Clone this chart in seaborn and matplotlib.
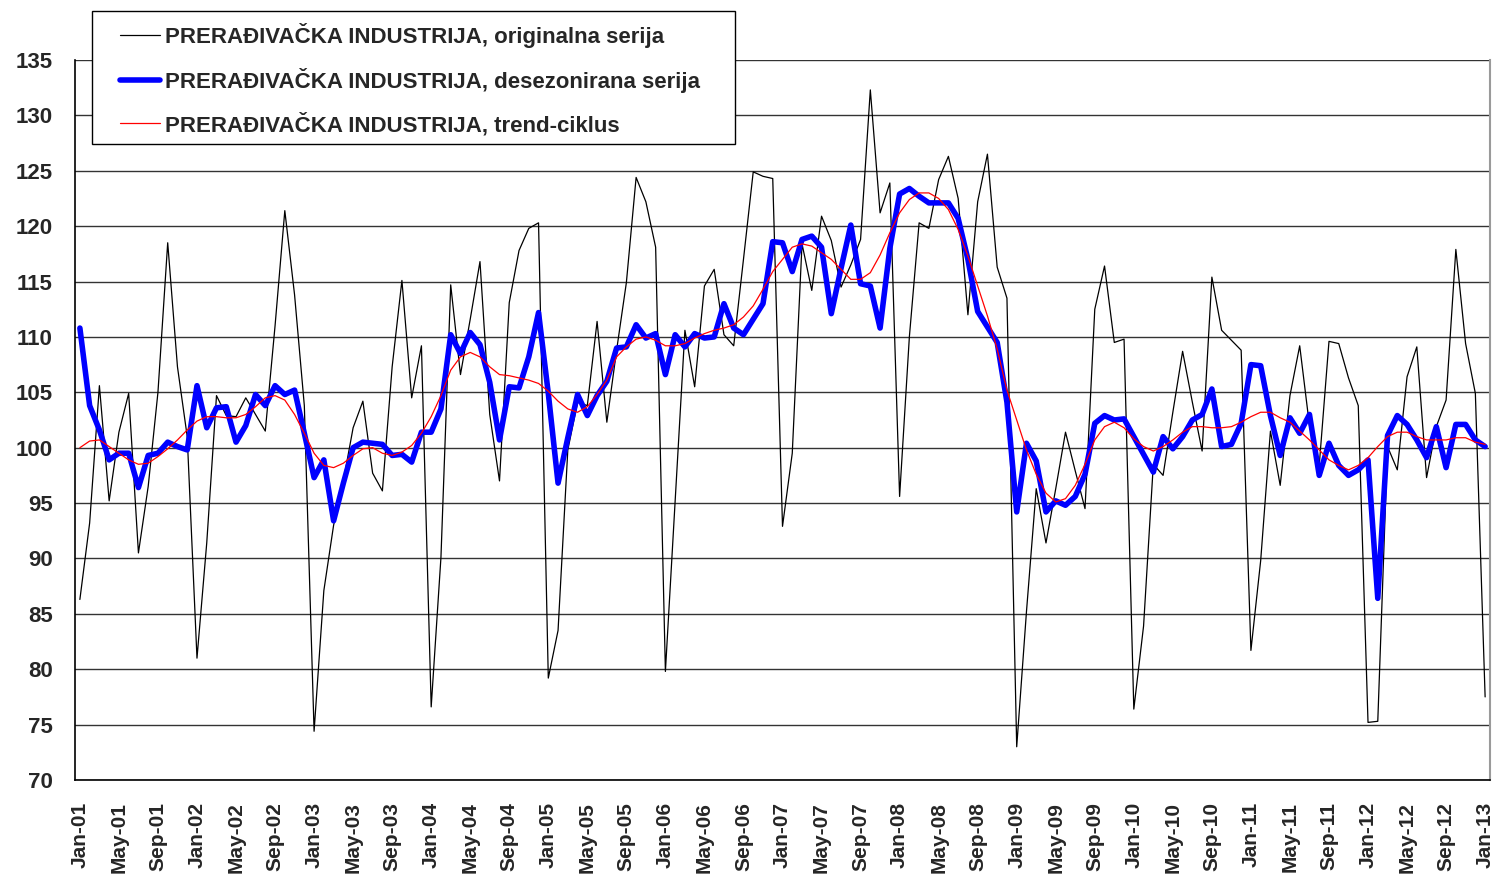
import numpy as np
import pandas as pd
import matplotlib
matplotlib.use("Agg")
import matplotlib.pyplot as plt
from matplotlib.patches import Rectangle
import seaborn as sns

# --- data (monthly, Jan-2001 .. Jan-2013) ---
MONTH_NAMES = ["Jan", "Feb", "Mar", "Apr", "May", "Jun",
               "Jul", "Aug", "Sep", "Oct", "Nov", "Dec"]
YEARS = list(range(1, 14))

original = [
    86.3, 93.2, 105.6, 95.2, 101.4, 104.9, 90.5, 96.5, 105.0, 118.5, 107.3, 101.0,
    81.0, 91.4, 104.7, 102.9, 102.8, 104.5, 103.0, 101.5, 111.0, 121.4, 113.8, 103.8,
    74.4, 87.1, 93.0, 97.0, 101.8, 104.2, 97.7, 96.1, 107.3, 115.1, 104.5, 109.2,
    76.6, 90.1, 114.7, 106.6, 111.6, 116.8, 103.0, 97.0, 113.1, 117.8, 119.8, 120.3,
    79.2, 83.5, 99.8, 104.1, 103.8, 111.4, 102.3, 108.8, 114.9, 124.4, 122.2, 118.1,
    79.8, 95.2, 110.6, 105.5, 114.6, 116.1, 110.2, 109.2, 117.0, 124.9, 124.5, 124.3,
    92.9, 99.5, 118.4, 114.2, 120.9, 118.7, 114.5, 116.5, 118.8, 132.3, 121.2, 123.9,
    95.6, 110.0, 120.3, 119.8, 124.2, 126.3, 122.5, 112.0, 122.2, 126.5, 116.3, 113.5,
    73.0, 85.2, 96.3, 91.4, 96.3, 101.4, 97.9, 94.5, 112.5, 116.4, 109.5, 109.8,
    76.4, 83.9, 98.5, 97.5, 103.2, 108.7, 104.1, 99.7, 115.4, 110.6, 109.7, 108.8,
    81.7, 89.8, 101.5, 96.6, 104.7, 109.2, 102.0, 98.4, 109.6, 109.4, 106.3, 103.8,
    75.2, 75.3, 100.1, 98.0, 106.4, 109.1, 97.3, 101.9, 104.3, 117.9, 109.4, 104.9,
    77.5,
]

seasonally_adjusted = [
    110.8, 103.8, 101.6, 98.9, 99.5, 99.5, 96.4, 99.3, 99.5, 100.5, 100.1, 99.8,
    105.6, 101.8, 103.6, 103.7, 100.5, 102.0, 104.8, 103.8, 105.6, 104.8, 105.2, 101.3,
    97.3, 98.9, 93.4, 96.8, 100.0, 100.5, 100.4, 100.3, 99.3, 99.4, 98.7, 101.4,
    101.4, 103.5, 110.2, 108.5, 110.4, 109.3, 105.9, 100.7, 105.5, 105.4, 108.2, 112.2,
    104.9, 96.8, 100.9, 104.8, 102.9, 104.7, 106.0, 109.0, 109.1, 111.1, 109.9, 110.3,
    106.6, 110.2, 109.1, 110.3, 109.9, 110.0, 113.0, 110.8, 110.2, 111.6, 113.0, 118.6,
    118.5, 115.9, 118.8, 119.1, 118.1, 112.1, 116.2, 120.1, 114.8, 114.6, 110.8, 118.0,
    122.9, 123.4, 122.7, 122.1, 122.1, 122.1, 120.7, 117.0, 112.3, 110.9, 109.5, 104.1,
    94.2, 100.4, 98.8, 94.2, 95.2, 94.8, 95.6, 97.6, 102.2, 102.9, 102.5, 102.6,
    101.0, 99.4, 97.8, 101.0, 99.9, 101.0, 102.5, 103.0, 105.3, 100.1, 100.3, 102.2,
    107.5, 107.4, 102.9, 99.3, 102.7, 101.3, 103.0, 97.5, 100.4, 98.4, 97.5, 98.0,
    98.9, 86.4, 101.1, 102.9, 102.1, 100.7, 99.1, 101.9, 98.2, 102.1, 102.1, 100.7,
    100.1,
]

trend_cycle = [
    100.0, 100.6, 100.7, 100.1, 99.5, 98.9, 98.5, 98.6, 99.2, 99.9, 100.7, 101.6,
    102.4, 102.8, 102.8, 102.7, 102.7, 103.0, 103.7, 104.5, 104.7, 104.3, 103.0, 101.3,
    99.5, 98.4, 98.2, 98.6, 99.3, 99.9, 100.0, 99.5, 99.3, 99.6, 100.2, 101.3,
    102.8, 104.7, 107.0, 108.2, 108.6, 108.2, 107.3, 106.6, 106.5, 106.3, 106.1, 105.8,
    105.1, 104.2, 103.5, 103.2, 103.7, 104.8, 106.1, 108.2, 109.1, 109.8, 110.0, 109.7,
    109.2, 109.2, 109.4, 109.9, 110.3, 110.6, 110.8, 111.1, 111.8, 112.8, 114.3, 115.9,
    117.0, 118.1, 118.4, 118.2, 117.6, 117.0, 116.1, 115.2, 115.2, 115.8, 117.4, 119.4,
    121.2, 122.4, 123.0, 123.0, 122.5, 121.5, 119.7, 117.3, 114.6, 111.9, 108.9, 105.2,
    102.5, 99.8, 97.6, 95.9, 95.1, 95.4, 96.6, 98.5, 100.7, 101.9, 102.3, 101.8,
    100.8, 100.1, 99.7, 100.1, 100.7, 101.4, 101.9, 101.9, 101.8, 101.8, 101.9, 102.3,
    102.8, 103.2, 103.2, 102.7, 102.3, 101.5, 100.7, 99.8, 98.9, 98.4, 98.0, 98.4,
    99.1, 100.1, 101.0, 101.4, 101.4, 101.0, 100.7, 100.7, 100.7, 100.9, 100.9, 100.5,
    100.3,
]

labels = [
    "PRERAĐIVAČKA INDUSTRIJA, originalna serija",
    "PRERAĐIVAČKA INDUSTRIJA, desezonirana serija",
    "PRERAĐIVAČKA INDUSTRIJA, trend-ciklus",
]

month_labels = [f"{m}-{y:02d}" for y in YEARS for m in MONTH_NAMES][:len(original)]
y_ticks = list(range(70, 140, 5))

df = pd.DataFrame({
    "idx": np.arange(len(original)),
    "original": original,
    "sa": seasonally_adjusted,
    "trend": trend_cycle,
})

sns.set_style("white")
plt.rcParams["font.family"] = ["Liberation Sans", "DejaVu Sans"]
plt.rcParams["font.weight"] = "bold"

W, H = 1503, 876
FS = 16
fig = plt.figure(figsize=(W / 100, H / 100), dpi=100)
ax = fig.add_axes([75 / W, 1 - 780 / H, (1490 - 75) / W, 720 / H])

sns.lineplot(data=df, x="idx", y="original", ax=ax, color="black", lw=0.9,
             label=labels[0], zorder=3)
sns.lineplot(data=df, x="idx", y="sa", ax=ax, color="#0000ff", lw=4.0,
             label=labels[1], zorder=4)
sns.lineplot(data=df, x="idx", y="trend", ax=ax, color="#ff0000", lw=0.9,
             label=labels[2], zorder=5)

ax.set_xlim(-0.5, len(original) - 0.5)
ax.set_ylim(70, 135)
ax.set_xlabel("")
ax.set_ylabel("")

# horizontal gridlines
ax.set_yticks(y_ticks)
ax.yaxis.grid(True, color="#333333", lw=1.0)
ax.xaxis.grid(False)
ax.set_axisbelow(True)
ax.tick_params(axis="y", which="major", direction="out", length=5, width=1,
               color="black", pad=11, labelsize=FS)

# labels in category centres, tick marks on category boundaries
lab_pos = list(range(0, len(original), 4))
ax.set_xticks(lab_pos)
ax.set_xticklabels([month_labels[i] for i in lab_pos], rotation=90,
                   fontweight="bold")
ax.set_xticks([p - 0.5 for p in lab_pos], minor=True)
ax.tick_params(axis="x", which="major", length=0, pad=16, labelsize=15)
ax.tick_params(axis="x", which="minor", direction="out", length=5, width=1,
               color="black")
for t in ax.get_yticklabels():
    t.set_fontweight("bold")

for side in ["left", "bottom"]:
    ax.spines[side].set_color("black")
    ax.spines[side].set_linewidth(1.2)
ax.spines["right"].set_color("#9a9a9a")
ax.spines["right"].set_linewidth(1.5)
ax.spines["top"].set_visible(False)

# legend box drawn by hand so the padding matches the original
fig.patches.append(Rectangle((92 / W, 1 - 144 / H), (735 - 92) / W, (144 - 11) / H,
                             transform=fig.transFigure, facecolor="white",
                             edgecolor="black", lw=1.0, zorder=2))

ax.get_legend().remove()
handles, labs = ax.get_legend_handles_labels()
leg = fig.legend(handles, labs, loc="upper left",
                 bbox_to_anchor=(120 / W, 1 - 23 / H), bbox_transform=fig.transFigure,
                 borderaxespad=0, borderpad=0, frameon=False,
                 labelspacing=0.89, handlelength=1.8, handletextpad=0.23,
                 prop={"size": FS, "weight": "bold"})
leg.set_zorder(3)

fig.savefig("out.png", dpi=100)
